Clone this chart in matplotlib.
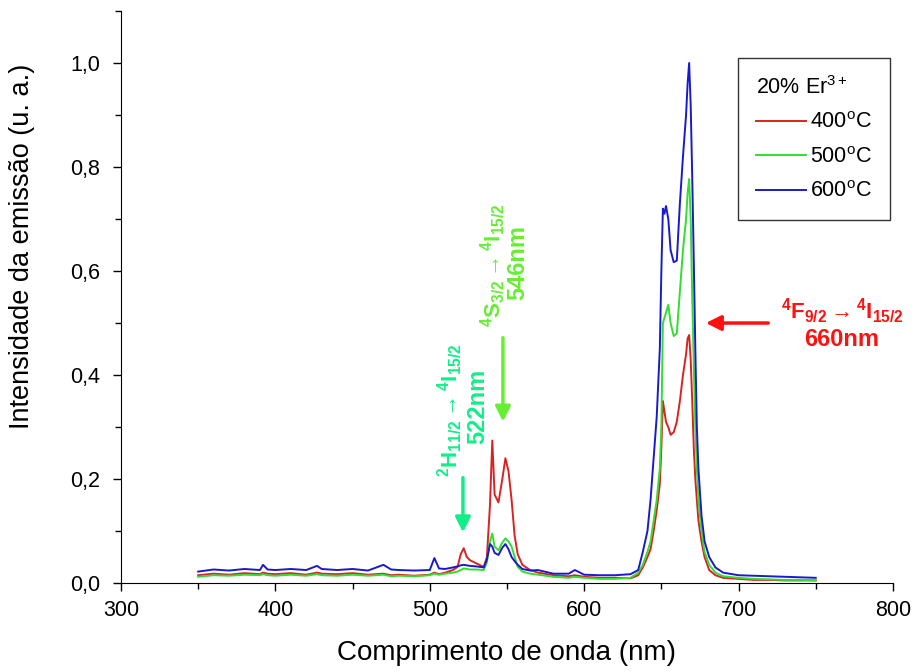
import matplotlib
matplotlib.use("Agg")
import matplotlib.pyplot as plt
from matplotlib.ticker import MultipleLocator, FuncFormatter

plt.rcParams['font.family'] = ['Liberation Sans', 'DejaVu Sans']
plt.rcParams['mathtext.fontset'] = 'custom'
plt.rcParams['mathtext.rm'] = 'Liberation Sans'
plt.rcParams['mathtext.it'] = 'Liberation Sans:italic'
plt.rcParams['mathtext.bf'] = 'Liberation Sans:bold'

# Emission spectra (wavelength in nm, normalised intensity)
wavelength = [350, 360, 370, 380, 390, 392, 395, 400, 410, 420, 427, 430, 440, 450,
              460, 470, 475, 480, 490, 500, 503, 506, 510, 515, 518, 520, 522, 524,
              526, 530, 535, 537, 539, 540.5, 542, 544.5, 547, 549, 551, 553, 555,
              557, 560, 565, 570, 580, 590, 594, 600, 610, 620, 630, 635, 638, 641,
              643, 645, 647, 649, 650, 651, 652, 653, 654.5, 656, 658, 660, 662, 664,
              666, 667, 668, 669, 670, 671, 672, 673, 674, 676, 678, 681, 685, 690,
              700, 710, 720, 730, 740, 750]

i_400 = [0.015, 0.018, 0.016, 0.019, 0.017, 0.020, 0.018, 0.017, 0.019, 0.016, 0.020,
         0.018, 0.017, 0.019, 0.016, 0.018, 0.015, 0.016, 0.014, 0.016, 0.020, 0.017,
         0.020, 0.025, 0.031, 0.055, 0.067, 0.050, 0.044, 0.038, 0.031, 0.050, 0.150,
         0.274, 0.170, 0.155, 0.200, 0.240, 0.215, 0.160, 0.090, 0.055, 0.035, 0.025,
         0.020, 0.015, 0.013, 0.015, 0.012, 0.010, 0.010, 0.009, 0.015, 0.030, 0.050,
         0.065, 0.100, 0.140, 0.190, 0.260, 0.350, 0.330, 0.310, 0.300, 0.285, 0.290,
         0.310, 0.350, 0.400, 0.440, 0.470, 0.477, 0.430, 0.350, 0.260, 0.200, 0.160,
         0.120, 0.080, 0.050, 0.025, 0.015, 0.010, 0.008, 0.006, 0.006, 0.005, 0.005,
         0.005]

i_500 = [0.012, 0.015, 0.014, 0.016, 0.015, 0.017, 0.015, 0.014, 0.016, 0.014, 0.017,
         0.015, 0.014, 0.016, 0.014, 0.016, 0.013, 0.014, 0.013, 0.015, 0.018, 0.016,
         0.018, 0.020, 0.022, 0.025, 0.028, 0.027, 0.026, 0.026, 0.025, 0.040, 0.080,
         0.095, 0.070, 0.063, 0.078, 0.086, 0.080, 0.070, 0.050, 0.031, 0.022, 0.018,
         0.016, 0.012, 0.010, 0.012, 0.010, 0.008, 0.008, 0.010, 0.020, 0.035, 0.060,
         0.080, 0.120, 0.160, 0.220, 0.300, 0.500, 0.510, 0.520, 0.535, 0.500, 0.475,
         0.480, 0.560, 0.640, 0.700, 0.750, 0.777, 0.700, 0.550, 0.420, 0.300, 0.220,
         0.160, 0.100, 0.060, 0.035, 0.020, 0.013, 0.010, 0.008, 0.007, 0.006, 0.006,
         0.005]

i_600 = [0.022, 0.026, 0.024, 0.027, 0.025, 0.035, 0.026, 0.025, 0.027, 0.025, 0.033,
         0.027, 0.025, 0.027, 0.024, 0.035, 0.026, 0.025, 0.024, 0.025, 0.048, 0.028,
         0.027, 0.030, 0.032, 0.034, 0.035, 0.034, 0.033, 0.032, 0.030, 0.045, 0.075,
         0.070, 0.058, 0.054, 0.068, 0.075, 0.065, 0.050, 0.042, 0.035, 0.027, 0.024,
         0.025, 0.018, 0.018, 0.025, 0.016, 0.015, 0.015, 0.017, 0.025, 0.060, 0.100,
         0.160, 0.240, 0.320, 0.450, 0.600, 0.720, 0.710, 0.725, 0.700, 0.640, 0.617,
         0.620, 0.730, 0.820, 0.900, 0.960, 1.000, 0.920, 0.780, 0.620, 0.450, 0.300,
         0.220, 0.130, 0.080, 0.050, 0.030, 0.020, 0.015, 0.014, 0.013, 0.012, 0.011,
         0.010]

series = [("400$^{\\mathrm{o}}$C", i_400, "#d92323"),
          ("500$^{\\mathrm{o}}$C", i_500, "#33dd33"),
          ("600$^{\\mathrm{o}}$C", i_600, "#1a1acc")]

fig = plt.figure(figsize=(9.15, 6.72), dpi=100)
ax = fig.add_axes([0.1322, 0.1324, 0.8437, 0.8512])

for label, vals, col in series:
    ax.plot(wavelength, vals, color=col, lw=1.4, label=label)

ax.set_xlim(300, 800)
ax.set_ylim(0, 1.1)
ax.spines['top'].set_visible(False)
ax.spines['right'].set_visible(False)
ax.xaxis.set_major_locator(MultipleLocator(100))
ax.xaxis.set_minor_locator(MultipleLocator(50))
ax.yaxis.set_major_locator(MultipleLocator(0.2))
ax.yaxis.set_minor_locator(MultipleLocator(0.1))
ax.yaxis.set_major_formatter(FuncFormatter(lambda v, p: f"{v:.1f}".replace('.', ',')))
ax.tick_params(which='major', length=6, width=1, labelsize=15.5)
ax.tick_params(axis='y', which='major', pad=9)
ax.tick_params(axis='x', which='major', pad=6)
ax.tick_params(which='minor', length=4, width=1)
ax.set_xlabel("Comprimento de onda (nm)", fontsize=20)
ax.set_ylabel("Intensidade da emissão (u. a.)", fontsize=19.5)
ax.xaxis.set_label_coords(0.5, -0.1)
ax.yaxis.set_label_coords(-0.111, 0.589)

leg = ax.legend(title="20% Er$^{3+}$", loc='upper right', bbox_to_anchor=(0.996, 0.918),
                borderaxespad=0, fontsize=15.5, title_fontsize=15.5, frameon=True,
                fancybox=False, edgecolor='black', borderpad=0.85, handlelength=2.3,
                handletextpad=0.2, labelspacing=0.62)
leg.get_frame().set_linewidth(1.0)
leg._legend_box.align = "left"

# 660 nm transition (red)
red_txt = "#ff1111"
ax.annotate("", xy=(677, 0.50), xytext=(721, 0.50),
            arrowprops=dict(arrowstyle="-|>,head_length=0.9,head_width=0.45",
                            color=red_txt, lw=2.5))
ax.text(767, 0.522, r"$\mathbf{^{4}F_{9/2}}\rightarrow\mathbf{^{4}I_{15/2}}$",
        color=red_txt, fontsize=16, ha='center', va='center', clip_on=False)
ax.text(767, 0.468, "660nm", color=red_txt, fontsize=17, fontweight='bold',
        ha='center', va='center', clip_on=False)

# 546 nm transition (green)
g546 = "#66ee33"
ax.annotate("", xy=(547.4, 0.305), xytext=(547.4, 0.477),
            arrowprops=dict(arrowstyle="-|>,head_length=0.9,head_width=0.45",
                            color=g546, lw=2.5))
ax.text(541, 0.612, r"$\mathbf{^{4}S_{3/2}}\rightarrow\mathbf{^{4}I_{15/2}}$",
        color=g546, fontsize=16, rotation=90, ha='center', va='center')
ax.text(557, 0.617, "546nm", color=g546, fontsize=17, fontweight='bold',
        rotation=90, ha='center', va='center')

# 522 nm transition (spring green)
g522 = "#11ee88"
ax.annotate("", xy=(521.5, 0.092), xytext=(521.5, 0.208),
            arrowprops=dict(arrowstyle="-|>,head_length=0.9,head_width=0.45",
                            color=g522, lw=2.5))
ax.text(513, 0.333, r"$\mathbf{^{2}H_{11/2}}\rightarrow\mathbf{^{4}I_{15/2}}$",
        color=g522, fontsize=16, rotation=90, ha='center', va='center')
ax.text(531, 0.34, "522nm", color=g522, fontsize=17, fontweight='bold',
        rotation=90, ha='center', va='center')

plt.savefig("out.png", dpi=100)
